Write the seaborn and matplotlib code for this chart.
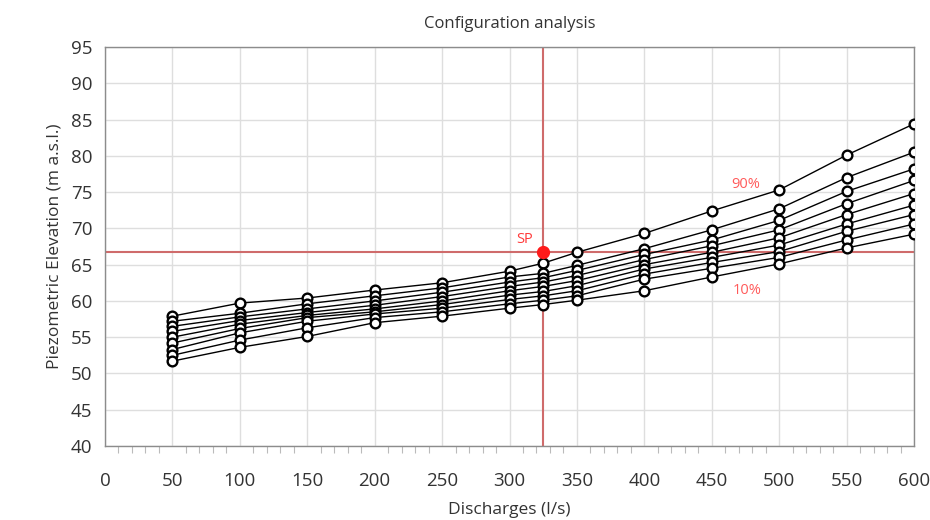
import numpy as np
import pandas as pd
import matplotlib
matplotlib.use("Agg")
import matplotlib.pyplot as plt
import seaborn as sns
from matplotlib.ticker import MultipleLocator

# ---- data ----
discharges = [50, 100, 150, 200, 250, 300, 325, 350, 400, 450, 500, 550, 600]
series_names = ["90%", "80%", "70%", "60%", "50%", "40%", "30%", "20%", "10%"]
s90 = [57.9, 59.7, 60.4, 61.5, 62.5, 64.1, 65.2, 66.7, 69.3, 72.4, 75.3, 80.1, 84.4]
s80 = [57.2, 58.3, 59.6, 60.7, 61.8, 63.3, 63.8, 64.9, 67.2, 69.8, 72.7, 77.0, 80.5]
s70 = [56.5, 57.8, 58.9, 60.0, 61.2, 62.6, 63.2, 64.2, 66.4, 68.4, 71.1, 75.1, 78.2]
s60 = [55.8, 57.3, 58.4, 59.4, 60.6, 62.0, 62.6, 63.5, 65.7, 67.6, 69.8, 73.4, 76.6]
s50 = [55.0, 56.8, 58.0, 58.9, 60.0, 61.4, 62.0, 62.8, 65.0, 66.7, 68.7, 71.9, 74.8]
s40 = [54.2, 56.2, 57.7, 58.5, 59.5, 60.8, 61.3, 62.1, 64.4, 66.0, 67.7, 70.6, 73.2]
s30 = [53.3, 55.6, 57.2, 58.2, 59.0, 60.2, 60.7, 61.4, 63.7, 65.3, 66.8, 69.6, 71.9]
s20 = [52.5, 54.6, 56.3, 57.7, 58.5, 59.6, 60.1, 60.7, 63.0, 64.5, 66.0, 68.4, 70.6]
s10 = [51.7, 53.6, 55.1, 57.0, 57.9, 59.0, 59.5, 60.1, 61.4, 63.3, 65.1, 67.3, 69.2]
all_series = [s90, s80, s70, s60, s50, s40, s30, s20, s10]

sp_x = 325
sp_y = 66.7
label_90 = (475, 76.0, "90%")
label_10 = (476, 61.4, "10%")
label_sp = (311, 68.4, "SP")

title = "Configuration analysis"
xlabel = "Discharges (l/s)"
ylabel = "Piezometric Elevation (m a.s.l.)"

rows = []
for name, vals in zip(series_names, all_series):
    for x, y in zip(discharges, vals):
        rows.append({"series": name, "Q": x, "H": y})
df = pd.DataFrame(rows)

# ---- plot ----
sns.set_theme(style="white")
plt.rcParams["font.family"] = ["Open Sans", "DejaVu Sans"]

fig = plt.figure(figsize=(9.3, 5.2), dpi=100)
ax = fig.add_axes([0.1129, 0.1423, 0.8699, 0.7673])

red = "#cf6b6b"
ax.axhline(sp_y, color=red, lw=1.5, zorder=1)
ax.axvline(sp_x, color=red, lw=1.5, zorder=1)

sns.lineplot(data=df, x="Q", y="H", hue="series", hue_order=series_names,
             palette=["black"] * len(series_names), marker="o", dashes=False,
             markersize=7, markerfacecolor="white", markeredgecolor="black",
             markeredgewidth=1.7, linewidth=1.0, legend=False, ax=ax,
             estimator=None, sort=False, zorder=3)

ax.plot([sp_x], [sp_y], marker="o", markersize=8.5, color="#ff1a1a",
        markeredgecolor="#ff1a1a", zorder=5, linestyle="none")

ax.text(label_sp[0], label_sp[1], label_sp[2], color="#ff3b3b", fontsize=10.5,
        ha="center", va="center")
ax.text(label_90[0], label_90[1], label_90[2], color="#ff5a5a", fontsize=10.5,
        ha="center", va="center")
ax.text(label_10[0], label_10[1], label_10[2], color="#ff5a5a", fontsize=10.5,
        ha="center", va="center")

ax.set_xlim(0, 600)
ax.set_ylim(40, 95)
ax.xaxis.set_major_locator(MultipleLocator(50))
ax.xaxis.set_minor_locator(MultipleLocator(10))
ax.yaxis.set_major_locator(MultipleLocator(5))

ax.grid(True, which="major", color="#dedede", linewidth=1.0)
ax.set_axisbelow(True)
for s in ax.spines.values():
    s.set_color("#8c8c8c")
    s.set_linewidth(1.0)

ax.tick_params(axis="x", which="major", length=14, color="#dddddd", width=1.0,
               labelsize=13.5, pad=5, labelcolor="#333333")
ax.tick_params(axis="x", which="minor", length=5, color="#bbbbbb", width=0.8,
               bottom=True)
ax.tick_params(axis="y", which="major", length=6, color="#999999", width=1.0,
               labelsize=13.5, pad=3, labelcolor="#333333")

ax.set_xlabel(xlabel, fontsize=12.5, color="#333333", labelpad=8)
ax.set_ylabel(ylabel, fontsize=12.5, color="#333333", labelpad=6)
ax.set_title(title, fontsize=12, color="#333333", pad=14)

fig.savefig("out.png", dpi=100, facecolor="white")
